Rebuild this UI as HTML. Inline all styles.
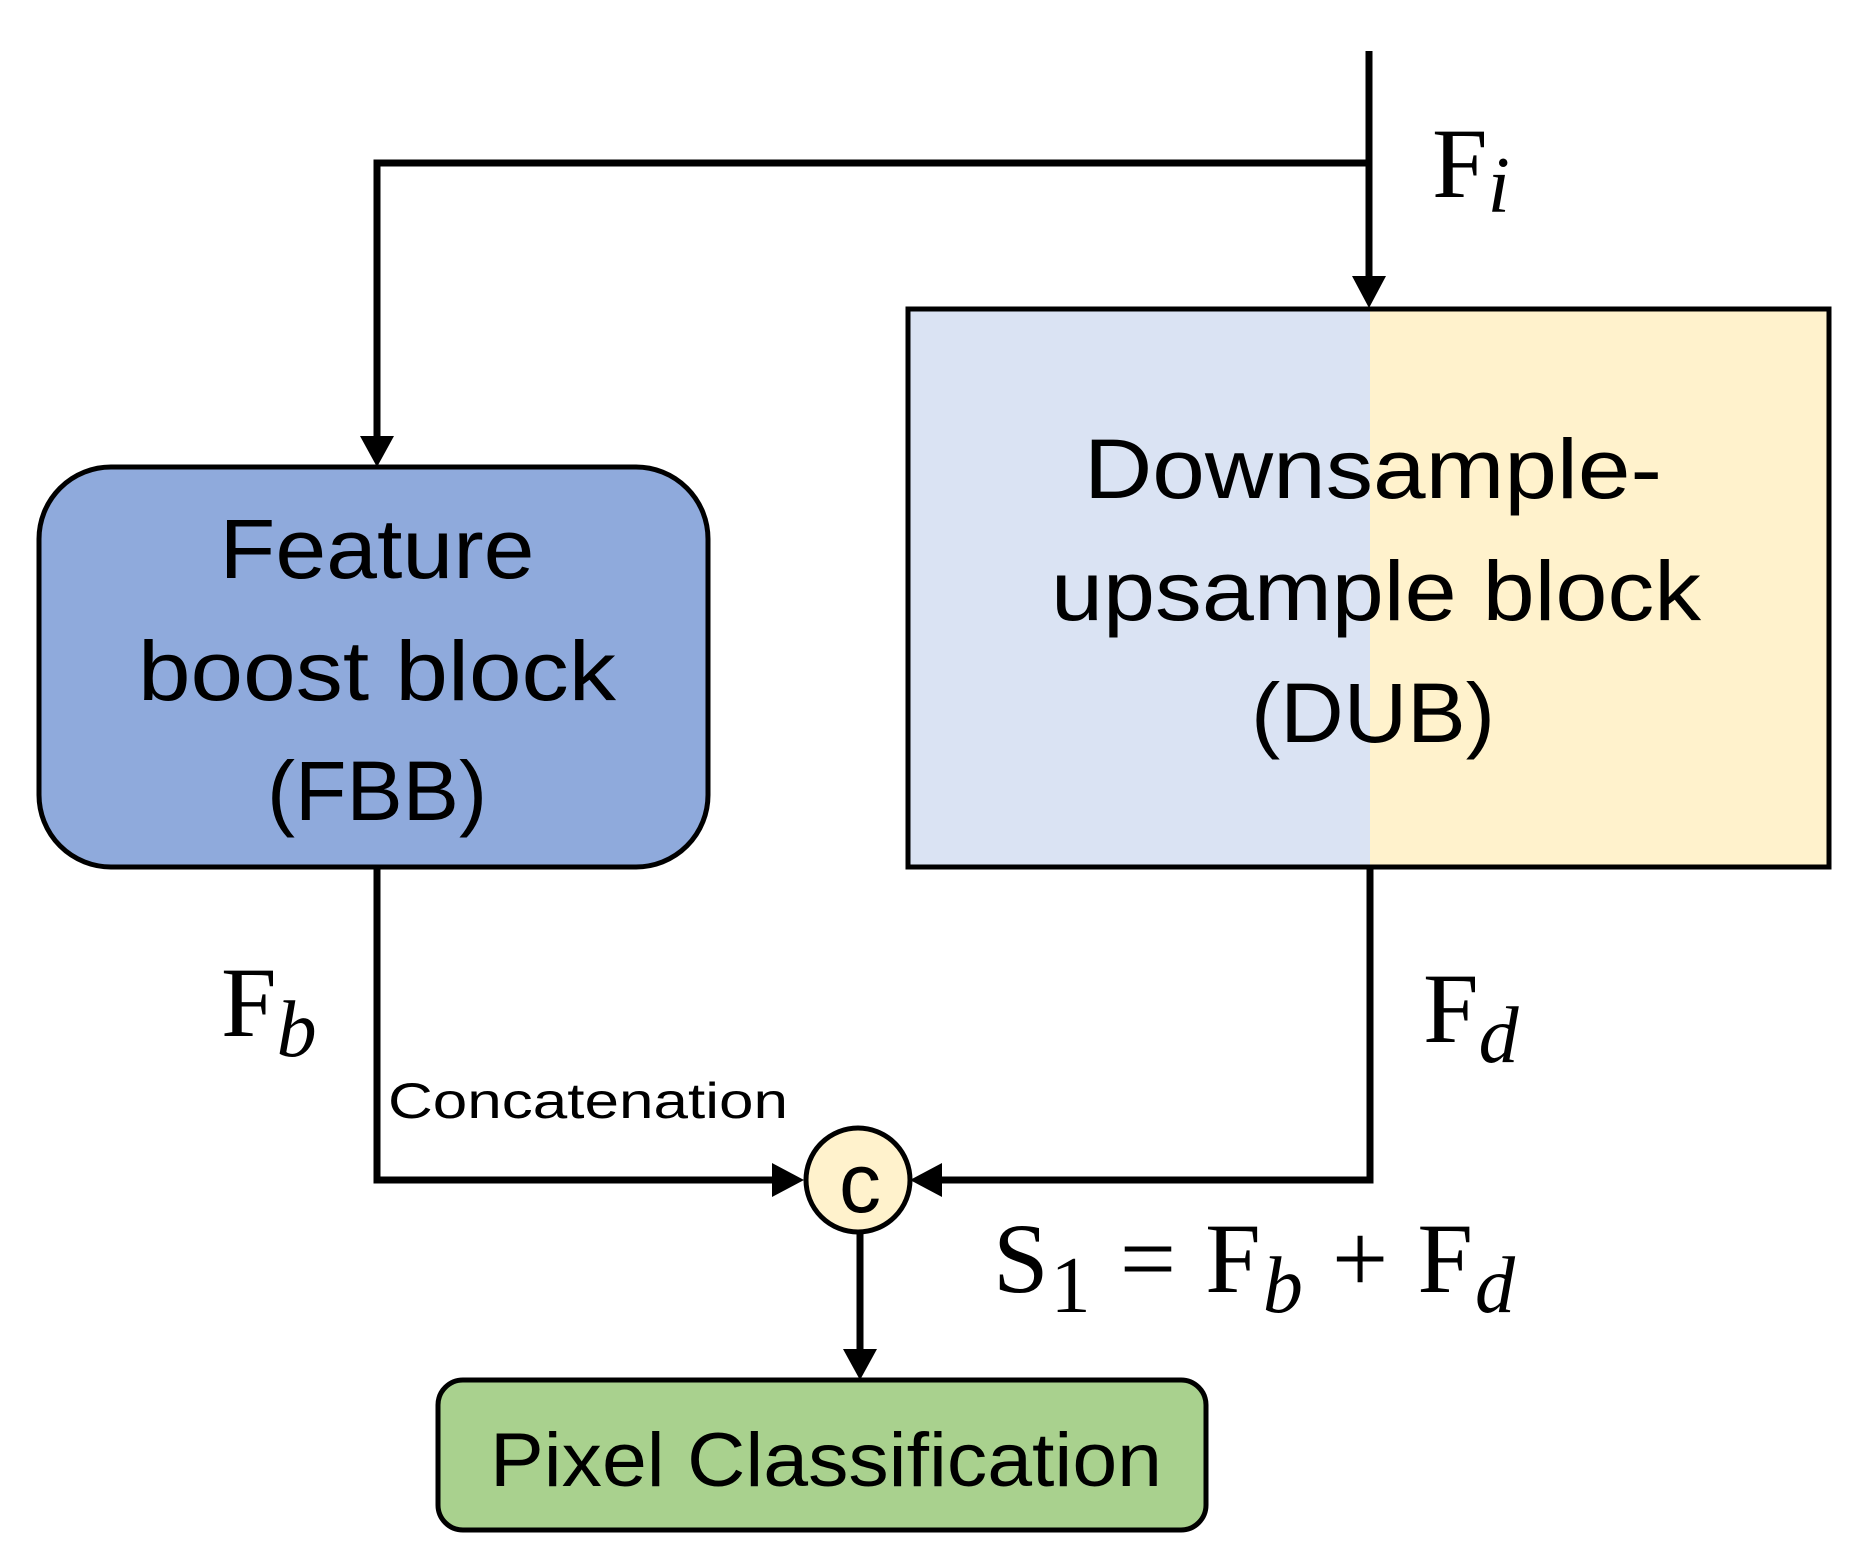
<!DOCTYPE html>
<html><head><meta charset="utf-8"><style>html,body{margin:0;padding:0;background:#fff}svg{display:block}</style></head>
<body>
<svg width="1862" height="1564" viewBox="0 0 1862 1564" xmlns="http://www.w3.org/2000/svg">
<g stroke="#000" stroke-width="7" fill="none">
<polyline points="1369,51 1369,280"/>
<polyline points="1369,163 377,163 377,440"/>
<polyline points="377,867 377,1180 775,1180"/>
<polyline points="1370,867 1370,1180 940,1180"/>
<polyline points="860,1228 860,1352"/>
</g>
<g fill="#000">
<polygon points="1352,276 1386,276 1369,308"/>
<polygon points="360,436 394,436 377,467"/>
<polygon points="772,1163 772,1197 804,1180"/>
<polygon points="942,1163 942,1197 910,1180"/>
<polygon points="843,1349 877,1349 860,1380"/>
</g>
<rect x="39" y="467" width="669" height="400" rx="72" fill="#8faadc" stroke="#000" stroke-width="5"/>
<rect x="908" y="309" width="462" height="558" fill="#dae3f3"/>
<rect x="1370" y="309" width="459" height="558" fill="#fff2cc"/>
<rect x="908" y="309" width="921" height="558" fill="none" stroke="#000" stroke-width="5"/>
<rect x="438" y="1380" width="768" height="150" rx="25" fill="#a9d18e" stroke="#000" stroke-width="5"/>
<ellipse cx="858" cy="1180" rx="52" ry="52" fill="#fff2cc" stroke="#000" stroke-width="5"/>
<g font-family="Liberation Sans, sans-serif" fill="#000" text-anchor="middle">
<text x="377" y="578" font-size="84" textLength="315" lengthAdjust="spacingAndGlyphs">Feature</text>
<text x="377" y="700" font-size="84" textLength="478" lengthAdjust="spacingAndGlyphs">boost block</text>
<text x="377" y="820" font-size="84" textLength="220" lengthAdjust="spacingAndGlyphs">(FBB)</text>
<text x="1373" y="498" font-size="84" textLength="578" lengthAdjust="spacingAndGlyphs">Downsample-</text>
<text x="1376" y="620" font-size="84" textLength="650" lengthAdjust="spacingAndGlyphs">upsample block</text>
<text x="1373" y="742" font-size="84" textLength="244" lengthAdjust="spacingAndGlyphs">(DUB)</text>
<text x="826" y="1486" font-size="76" textLength="672" lengthAdjust="spacingAndGlyphs">Pixel Classification</text>
<text x="860" y="1212" font-size="84">c</text>
</g>
<text x="388" y="1118" font-family="Liberation Sans, sans-serif" font-size="50" textLength="400" lengthAdjust="spacingAndGlyphs">Concatenation</text>
<g font-family="Liberation Serif, serif" font-size="100" fill="#000">
<text x="1432" y="197">F<tspan font-style="italic" font-size="80" dy="15">i</tspan></text>
<text x="221" y="1036">F<tspan font-style="italic" font-size="80" dy="20">b</tspan></text>
<text x="1423" y="1042">F<tspan font-style="italic" font-size="80" dy="20">d</tspan></text>
<text x="993" y="1292" textLength="522" lengthAdjust="spacing">S<tspan font-size="80" dy="20">1</tspan><tspan dy="-20">  = F</tspan><tspan font-style="italic" font-size="80" dy="20">b</tspan><tspan dy="-20"> + F</tspan><tspan font-style="italic" font-size="80" dy="20">d</tspan></text>
</g>
</svg>
</body></html>
